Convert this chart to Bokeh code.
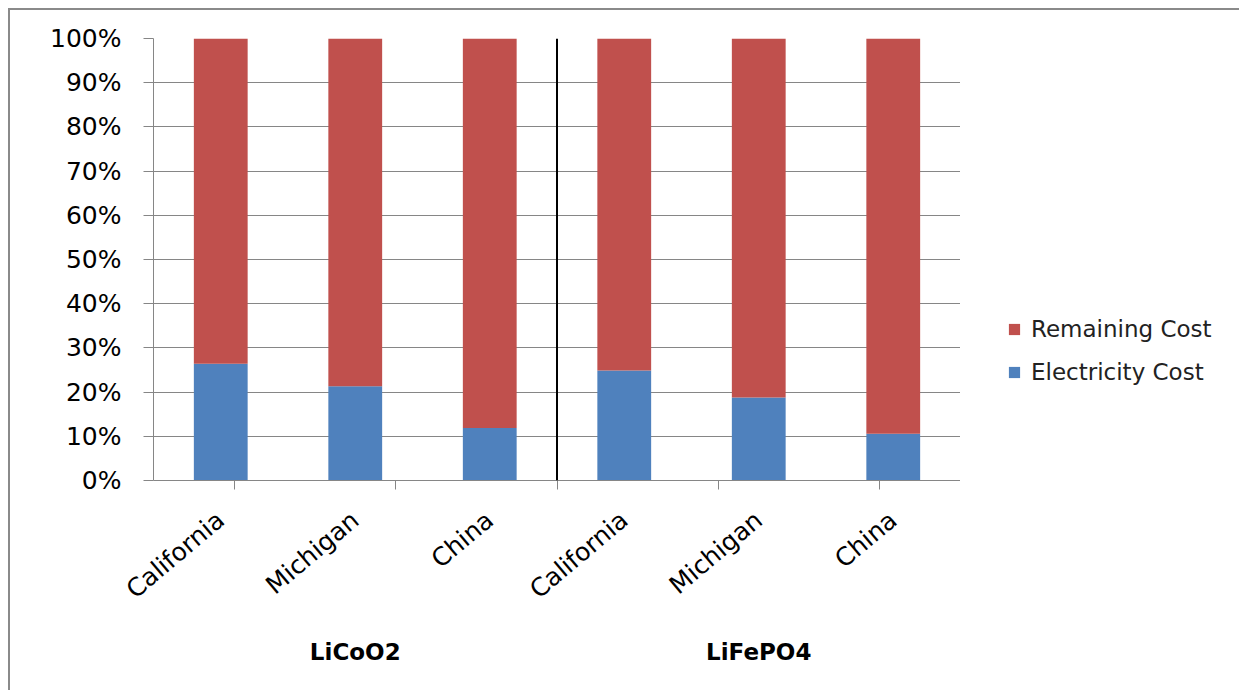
from bokeh.plotting import figure
from bokeh.layouts import row
from bokeh.models import (FactorRange, Range1d, CategoricalAxis, FixedTicker,
                          NumeralTickFormatter, Span, Legend,
                          LegendItem, ColumnDataSource)
from bokeh.embed import file_html
from bokeh.resources import INLINE

groups = ["LiCoO2", "LiFePO4"]
regions = ["California", "Michigan", "China"]
electricity = [0.264, 0.213, 0.119, 0.249, 0.188, 0.106]
remaining = [round(1 - e, 3) for e in electricity]
y_ticks = [0.0, 0.1, 0.2, 0.3, 0.4, 0.5, 0.6, 0.7, 0.8, 0.9, 1.0]
series = ["Electricity Cost", "Remaining Cost"]
colors = ["#4F81BD", "#C0504D"]

FONT = "DejaVu Sans"
GRAY = "#868686"

factors = [(g, r) for g in groups for r in regions]
source = ColumnDataSource(dict(x=factors, elec=electricity, rem=remaining))

p = figure(width=950, height=680,
           x_range=FactorRange(*factors, factor_padding=0, group_padding=0,
                               subgroup_padding=0, range_padding=0),
           y_range=Range1d(0, 1),
           output_backend="svg", toolbar_location=None,
           x_axis_location=None,
           min_border_left=143, min_border_right=0,
           min_border_top=28, min_border_bottom=210)
p.outline_line_color = None
p.xgrid.grid_line_color = None
p.ygrid.grid_line_color = GRAY
p.ygrid.ticker = FixedTicker(ticks=y_ticks)

yax = p.yaxis[0]
yax.ticker = FixedTicker(ticks=y_ticks)
yax.formatter = NumeralTickFormatter(format="0%")
yax.axis_line_color = GRAY
yax.major_tick_line_color = GRAY
yax.major_tick_out = 10
yax.major_tick_in = 0
yax.minor_tick_line_color = None
yax.major_label_text_font = FONT
yax.major_label_text_font_size = "25px"
yax.major_label_text_color = "black"
yax.major_label_standoff = 22

renderers = p.vbar_stack(["elec", "rem"], x="x", width=0.4, source=source,
                         color=colors, line_color=None)

# boundary tick marks between categories (a shifted helper factor range)
bounds = [" " * (i + 1) for i in range(len(factors) + 1)]
p.extra_x_ranges = {"bounds": FactorRange(*bounds, factor_padding=0,
                                          range_padding=-1,
                                          range_padding_units="absolute")}
tick_axis = CategoricalAxis(x_range_name="bounds",
                            major_tick_out=9, major_tick_in=0,
                            minor_tick_line_color=None,
                            axis_line_color=GRAY, major_tick_line_color=GRAY,
                            major_label_text_font_size="1px",
                            major_label_text_alpha=0,
                            major_label_standoff=0)
p.add_layout(tick_axis, "below")

cat_axis = CategoricalAxis(major_label_orientation=0.7,
                           major_tick_line_color=None, axis_line_color=None,
                           minor_tick_line_color=None,
                           major_label_text_font=FONT,
                           major_label_text_font_size="25px",
                           major_label_text_color="black",
                           major_label_standoff=21,
                           group_text_font=FONT,
                           group_text_font_size="23px",
                           group_text_font_style="bold",
                           group_text_color="black",
                           separator_line_alpha=0)
p.add_layout(cat_axis, "below")

divider = Span(location=len(regions), dimension="height",
               line_color="black", line_width=2)
p.add_layout(divider)

# legend panel to the right of the plot area (swatch renderers have zero size)
lp = figure(width=279, height=680, output_backend="svg", toolbar_location=None,
            x_range=Range1d(0, 1), y_range=Range1d(0, 1),
            x_axis_location=None, y_axis_location=None,
            min_border=0, outline_line_color=None)
lp.grid.visible = False
swatch = ColumnDataSource(dict(x=[0.0], top=[0.0]))
dummy = [lp.vbar(x="x", top="top", bottom=0, width=0, source=swatch,
                 color=c, line_color=None) for c in colors]

legend = Legend(items=[LegendItem(label=series[1], renderers=[dummy[1]]),
                       LegendItem(label=series[0], renderers=[dummy[0]])],
                location=(47, 95), orientation="vertical",
                border_line_color=None, background_fill_alpha=0,
                label_text_font=FONT, label_text_font_size="23px",
                label_text_color="#222222",
                glyph_width=14, glyph_height=14, label_standoff=10,
                spacing=17, padding=0, margin=0)
lp.add_layout(legend)

layout = row(p, lp, spacing=0)
layout.styles = {"border-left": "2px solid #8a8a8a", "border-top": "2px solid #8a8a8a",
                 "margin-left": "8px", "margin-top": "8px"}

open("out.html", "w").write(file_html(layout, INLINE))
